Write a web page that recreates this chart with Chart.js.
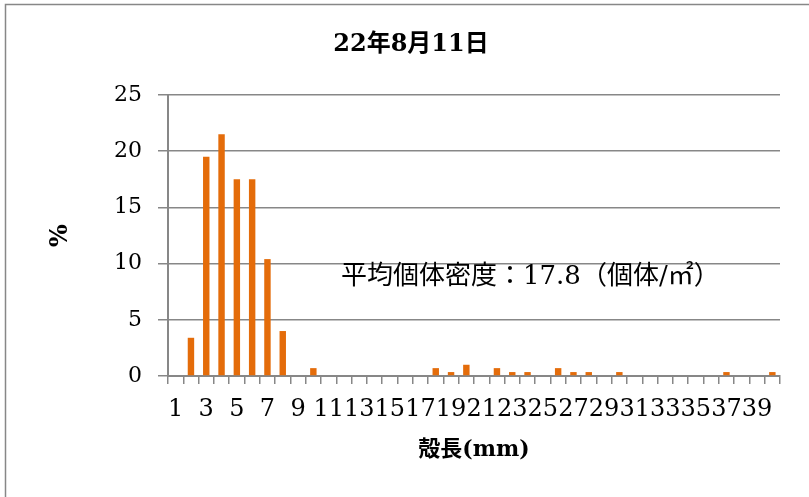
<!DOCTYPE html>
<html>
<head>
<meta charset="utf-8">
<script src="https://cdn.jsdelivr.net/npm/chart.js@4.4.1/dist/chart.umd.min.js"></script>
<style>
  html, body { margin: 0; padding: 0; background: #fff; }
  #wrap { width: 809px; height: 497px; }
</style>
</head>
<body>
<div id="wrap"><canvas id="chart" width="809" height="497"></canvas></div>
<script>
const chartTitle = '22年8月11日';
const xTitle = '殻長(mm)';
const yTitle = '%';
const note = '平均個体密度：17.8（個体/㎡）';

const sizes = ['1','2','3','4','5','6','7','8','9','10',
  '11','12','13','14','15','16','17','18','19','20',
  '21','22','23','24','25','26','27','28','29','30',
  '31','32','33','34','35','36','37','38','39','40'];

const percents = [0, 3.4, 19.5, 21.5, 17.5, 17.5, 10.4, 4.0, 0, 0.7,
  0, 0, 0, 0, 0, 0, 0, 0.7, 0.35, 1.0,
  0, 0.7, 0.35, 0.35, 0, 0.7, 0.35, 0.35, 0, 0.35,
  0, 0, 0, 0, 0, 0, 0.35, 0, 0, 0.35];

const yTicks = [0, 5, 10, 15, 20, 25];

const serif = '"DejaVu Serif", "Noto Sans CJK JP", serif';
const grey = '#878787';

// frame, title and the density note
const extras = {
  id: 'extras',
  beforeDraw(chart) {
    const ctx = chart.ctx;
    ctx.save();
    ctx.fillStyle = '#fff';
    ctx.fillRect(0, 0, chart.width, chart.height);
    ctx.strokeStyle = grey;
    ctx.lineWidth = 1.5;
    ctx.beginPath();
    ctx.moveTo(5.5, chart.height);
    ctx.lineTo(5.5, 4.5);
    ctx.lineTo(chart.width, 4.5);
    ctx.stroke();
    ctx.restore();
  },
  afterDraw(chart) {
    const ctx = chart.ctx;
    ctx.save();
    ctx.fillStyle = '#000';
    ctx.textAlign = 'center';
    ctx.textBaseline = 'middle';
    ctx.font = 'bold 24px ' + serif;
    ctx.fillText(chartTitle, 411, 45);
    ctx.textAlign = 'left';
    ctx.font = '26px ' + serif;
    ctx.fillText(note, 341, 277);
    ctx.restore();
  }
};

new Chart(document.getElementById('chart'), {
  type: 'bar',
  data: {
    labels: sizes,
    datasets: [{
      data: percents,
      backgroundColor: '#E46C0A',
      barPercentage: 0.42,
      categoryPercentage: 1,
    }],
  },
  options: {
    responsive: false,
    animation: false,
    layout: { padding: { top: 95, right: 29, bottom: 30, left: 0 } },
    plugins: {
      legend: { display: false },
      tooltip: { enabled: false },
    },
    scales: {
      x: {
        afterFit(scale) { scale.height = 91; },
        grid: {
          drawOnChartArea: false,
          drawTicks: true,
          tickLength: 8,
          color: grey,
          lineWidth: 1.5,
        },
        border: { color: grey, width: 2 },
        ticks: {
          autoSkip: false,
          maxRotation: 0,
          padding: 11,
          color: '#000',
          font: { family: serif, size: 24 },
          callback(value, index) {
            return index % 2 === 0 ? sizes[index] : '';
          },
        },
        title: {
          display: true,
          text: xTitle,
          color: '#000',
          font: { family: serif, size: 22, weight: 'bold' },
          padding: { top: 4, bottom: 4 },
        },
      },
      y: {
        min: 0,
        max: 25,
        afterFit(scale) { scale.width = 168; },
        afterBuildTicks(scale) {
          scale.ticks = yTicks.map(v => ({ value: v }));
        },
        grid: {
          color: grey,
          lineWidth: 1.5,
          tickLength: 10,
        },
        border: { color: grey, width: 2 },
        ticks: {
          padding: 16,
          color: '#000',
          font: { family: serif, size: 22 },
        },
        title: {
          display: true,
          text: yTitle,
          color: '#000',
          font: { family: serif, size: 24, weight: 'bold' },
          padding: { top: 46, bottom: 0 },
        },
      },
    },
  },
  plugins: [extras],
});
</script>
</body>
</html>
